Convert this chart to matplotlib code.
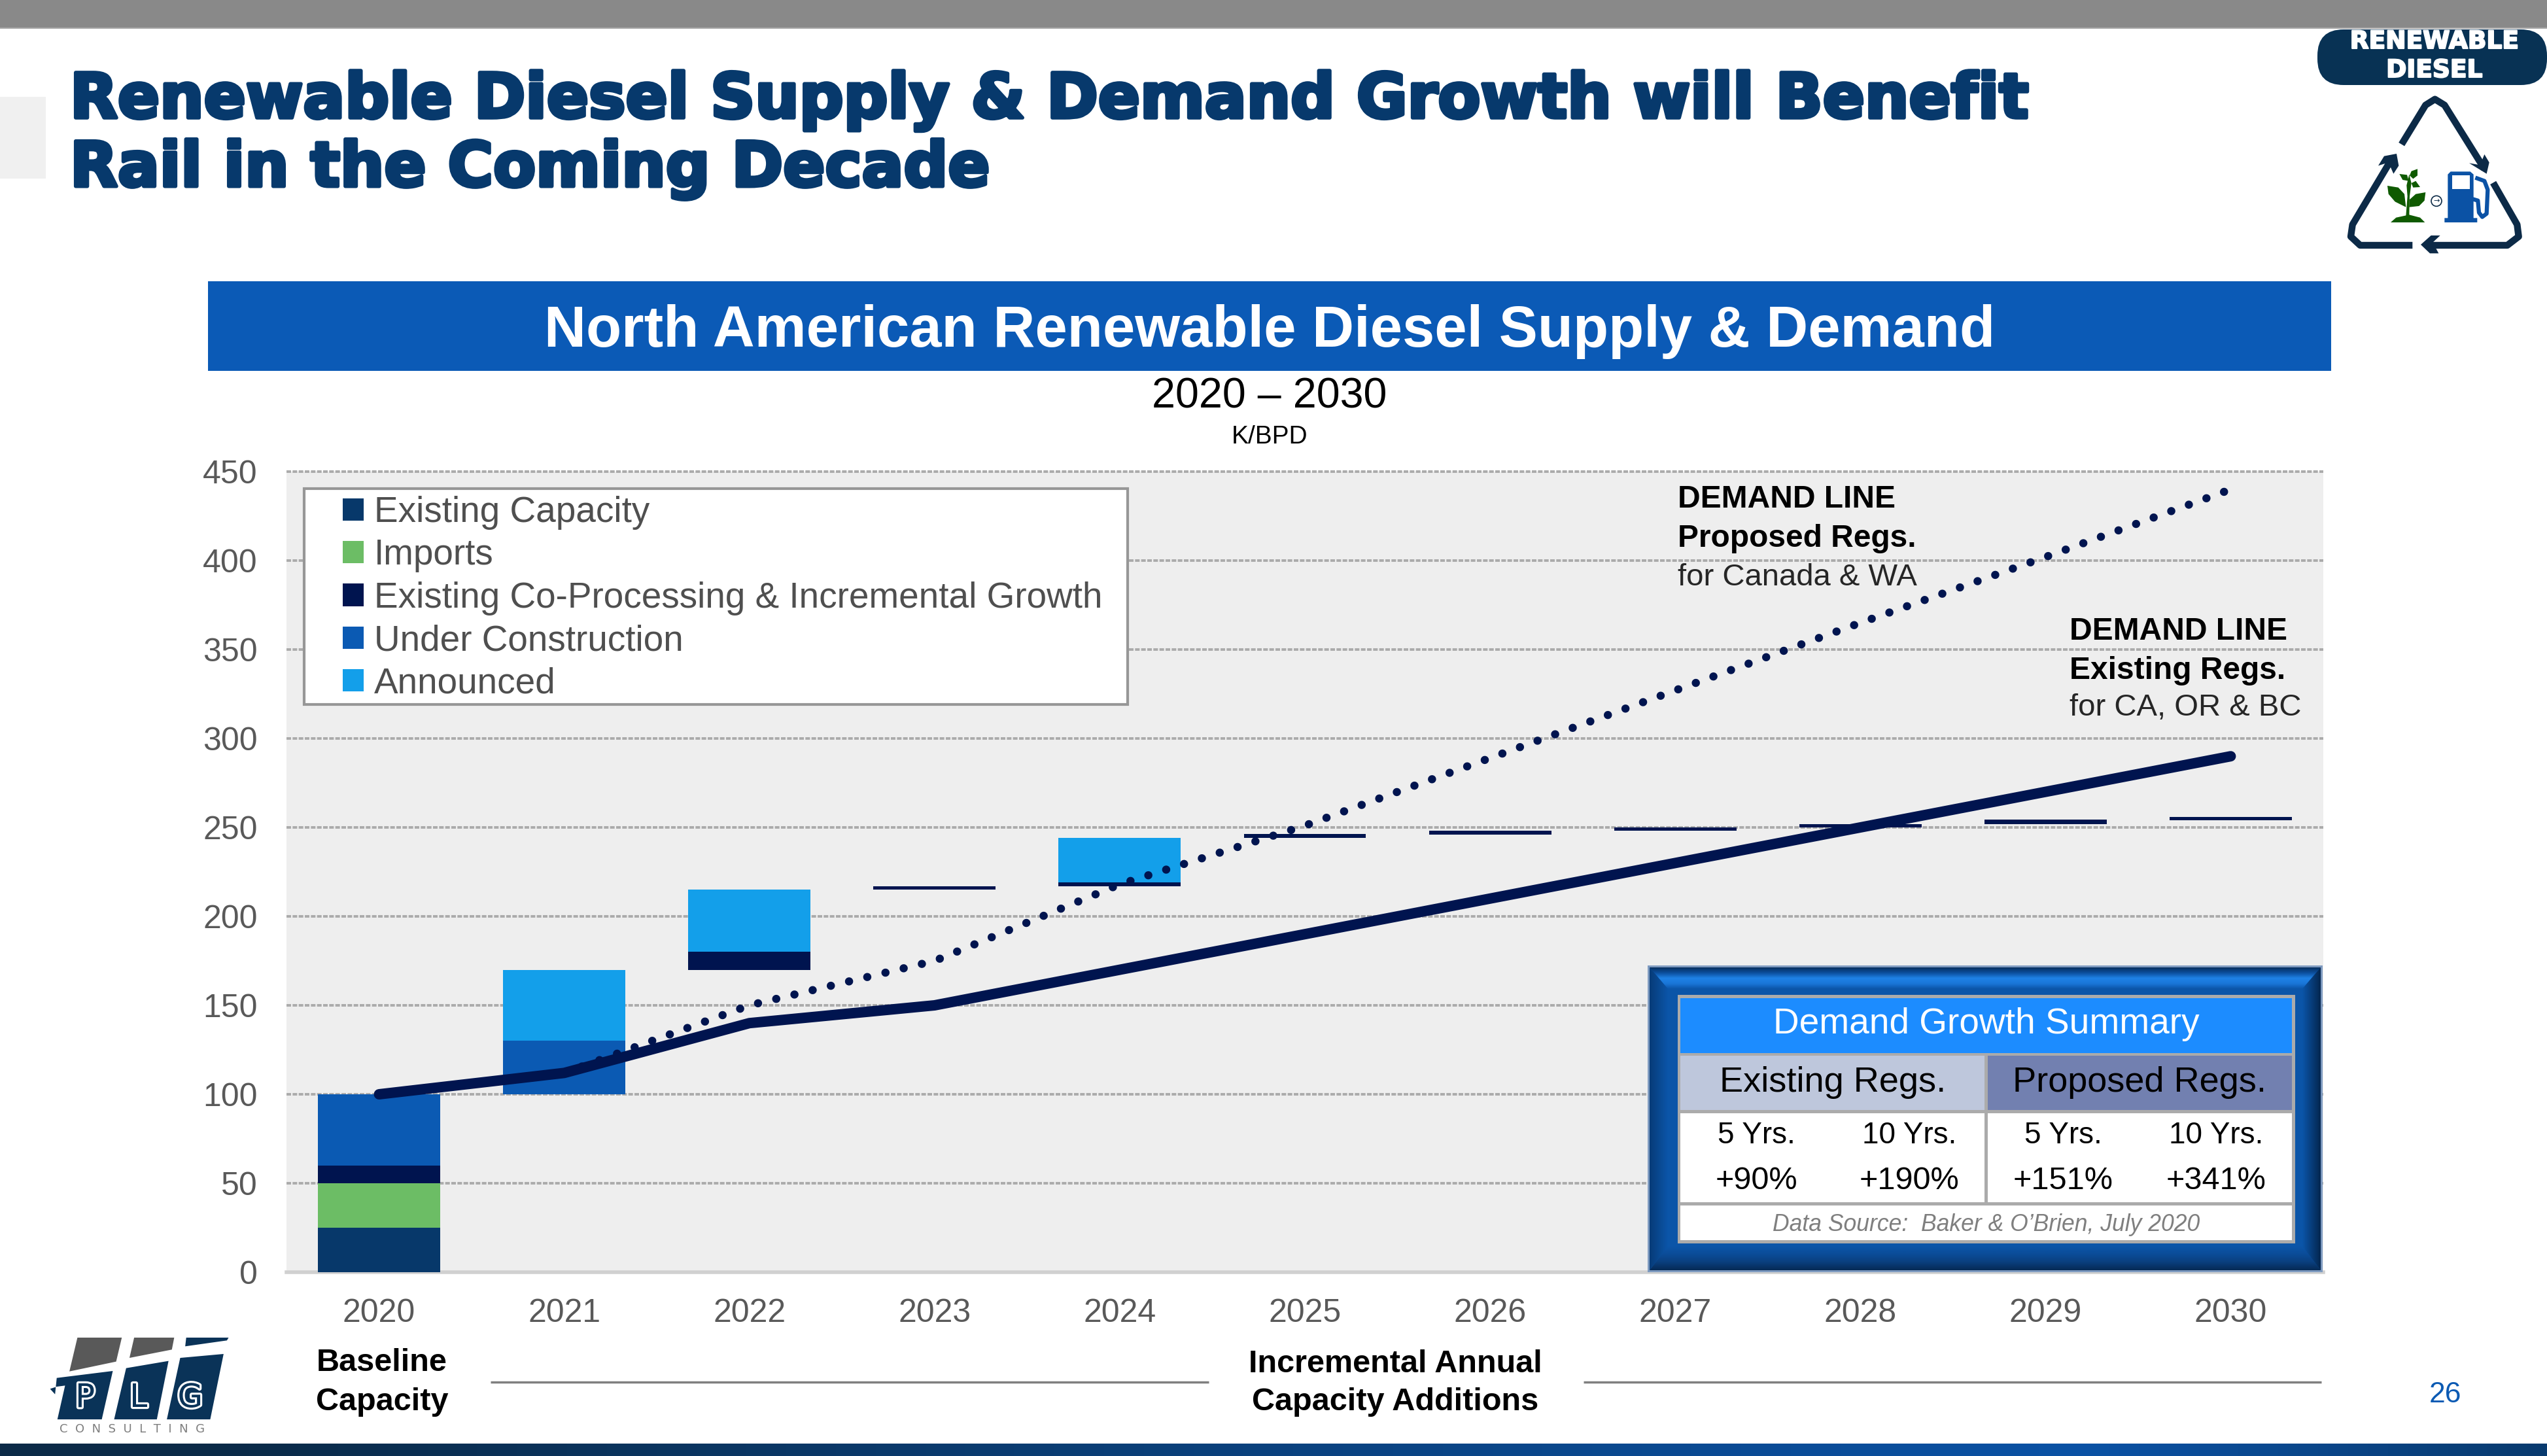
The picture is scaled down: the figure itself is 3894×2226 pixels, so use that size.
import numpy as np
import matplotlib
matplotlib.use("Agg")
import matplotlib.pyplot as plt
import matplotlib.patheffects as pe
from matplotlib.patches import Patch, Polygon, Rectangle, FancyBboxPatch, Circle
from matplotlib.colors import LinearSegmentedColormap

plt.rcParams['font.family'] = ['Liberation Sans', 'DejaVu Sans']

W, H = 3894, 2226

# ---------- data ----------
years = [2020, 2021, 2022, 2023, 2024, 2025, 2026, 2027, 2028, 2029, 2030]
base = [0, 100, 170, 215, 217, 244, 246, 248, 250, 252, 254]
existing = [25, 0, 0, 0, 0, 0, 0, 0, 0, 0, 0]
imports_ = [25, 0, 0, 0, 0, 0, 0, 0, 0, 0, 0]
coproc = [10, 0, 10, 2, 2, 2.5, 2, 2, 2, 2.3, 2]
under = [40, 30, 0, 0, 0, 0, 0, 0, 0, 0, 0]
announced = [0, 40, 35, 0, 25, 0, 0, 0, 0, 0, 0]
demand_existing = [100, 112, 140, 150, 170, 190, 210, 230, 250, 270, 290]
proposed_years = [2021, 2022, 2023, 2024, 2025, 2026, 2027, 2028, 2029, 2030]
demand_proposed = [112, 150, 175, 218, 251, 289, 327, 365, 402, 440]
series_names = ['Existing Capacity', 'Imports', 'Existing Co-Processing & Incremental Growth',
                'Under Construction', 'Announced']
series_colors = ['#07386A', '#6CBD65', '#00144F', '#0B5AB3', '#139FEA']
y_ticks = [0, 50, 100, 150, 200, 250, 300, 350, 400, 450]

NAVY = '#00144F'
fig = plt.figure(figsize=(W / 100, H / 100), dpi=100, facecolor='white')

# ---------- main chart ----------
L, R, T, B = 438, 3552, 721, 1945
ax = fig.add_axes([L / W, 1 - B / H, (R - L) / W, (B - T) / H], zorder=2)
ax.set_facecolor('#EEEEEE')
ax.set_xlim(2019.5, 2030.5)
ax.set_ylim(0, 450)
ax.set_axisbelow(True)
ax.grid(axis='y', color='#ABABAB', lw=2.8, ls=(0, (1.8, 0.6)), clip_on=False)
ax.grid(axis='x', visible=False)
for s in ['top', 'left', 'right']:
    ax.spines[s].set_visible(False)
ax.spines['bottom'].set_color('#D0D0D0')
ax.spines['bottom'].set_linewidth(4)
ax.tick_params(length=0, labelsize=36, labelcolor='#595959', pad=29)
ax.set_xticks(years)
ax.set_yticks(y_ticks)
ax.tick_params(axis='y', pad=32)

bottoms = np.array(base, dtype=float)
for vals, c in zip([existing, imports_, coproc, under, announced], series_colors):
    ax.bar(years, vals, width=0.66, bottom=bottoms, color=c, linewidth=0, zorder=3)
    bottoms = bottoms + np.array(vals, dtype=float)

ax.plot(proposed_years, demand_proposed, color=NAVY, lw=9, ls=(0, (0.01, 2.28)),
        dash_capstyle='round', zorder=4)
ax.plot(years, demand_existing, color=NAVY, lw=11.5, solid_capstyle='round',
        solid_joinstyle='round', zorder=5)

# legend frame, then legend without its own frame
ax.add_patch(Rectangle((465 / W, 1 - 1077 / H), (1724 - 465) / W, (1077 - 747) / H,
                       transform=fig.transFigure, facecolor='white', edgecolor='#979797',
                       lw=3, zorder=5.5))
handles = [Patch(facecolor=c, edgecolor='none', label=n) for c, n in zip(series_colors, series_names)]
leg = ax.legend(handles=handles, loc='upper left', bbox_to_anchor=(524 / W, 1 - 758 / H),
                bbox_transform=fig.transFigure, borderaxespad=0, borderpad=0, fontsize=39.5,
                frameon=False, handlelength=0.58, handleheight=0.58, handletextpad=0.3,
                labelspacing=0.245, labelcolor='#4F4F4F')
leg.set_zorder(6)

# ---------- overlay in pixel coordinates ----------
ov = fig.add_axes([0, 0, 1, 1], zorder=5)
ov.set_xlim(0, W)
ov.set_ylim(H, 0)
ov.axis('off')
ov.patch.set_alpha(0)


def rect(x0, y0, x1, y1, c, **k):
    ov.add_patch(Rectangle((x0, y0), x1 - x0, y1 - y0, facecolor=c, edgecolor='none', **k))


def txt(x, y, s, size, color='black', ha='center', va='center', **k):
    return ov.text(x, y, s, fontsize=size, color=color, ha=ha, va=va, **k)


def grad(x0, y0, x1, y1, colors, vertical=True, clip=None):
    n = 128
    a = np.linspace(0, 1, n)
    a = a[:, None] if vertical else a[None, :]
    cm = LinearSegmentedColormap.from_list('g', colors)
    im = ov.imshow(a, extent=(x0, x1, y1, y0), cmap=cm, aspect='auto', zorder=2,
                   interpolation='bilinear', vmin=0, vmax=1)
    if clip is not None:
        p = Polygon(clip, closed=True, transform=ov.transData, facecolor='none', edgecolor='none')
        ov.add_patch(p)
        im.set_clip_path(p)
    return im


# top & bottom bars, side tab
rect(0, 0, W, 42, '#898989')
rect(0, 42, W, 44, '#A8A8A8')
rect(0, 148, 70, 273, '#F0F0F0')
cm_stops = [(0, '#0C2A47'), (0.08, '#0B2A47'), (0.45, '#0A3F78'), (0.82, '#0B52A5'), (1, '#083A6E')]
cm_bar = LinearSegmentedColormap.from_list('bar', cm_stops)
ov.imshow(np.linspace(0, 1, 512)[None, :], extent=(0, W, H, 2207), cmap=cm_bar, aspect='auto',
          zorder=2, vmin=0, vmax=1)
ov.set_xlim(0, W)
ov.set_ylim(H, 0)

# title
TITLE = '#07396C'
title_fx = [pe.withStroke(linewidth=4, foreground=TITLE)]
for y, s in [(154, 'Renewable Diesel Supply & Demand Growth will Benefit'),
             (259, 'Rail in the Coming Decade')]:
    txt(107, y, s, 68.2, TITLE, ha='left', family='DejaVu Sans', weight='bold', path_effects=title_fx)

# chart header
rect(318, 430, 3564, 567, '#0B5AB6')
txt(1941, 507, 'North American Renewable Diesel Supply & Demand', 63.8, 'white', weight='bold')
txt(1941, 607, '2020 – 2030', 46.5)
txt(1941, 668, 'K/BPD', 28)

# demand annotations
for x, y0, lab in [(2565, 764, 'Proposed Regs.'), (3164, 966, 'Existing Regs.')]:
    txt(x, y0, 'DEMAND LINE', 34.5, ha='left', weight='bold')
    txt(x, y0 + 60, lab, 34.5, ha='left', weight='bold')
tail = [(2565, 883, 'for Canada & WA'), (3164, 1082, 'for CA, OR & BC')]
for x, y, s in tail:
    txt(x, y, s, 34, '#262626', ha='left')

# bottom labels
txt(584, 2084, 'Baseline', 35, weight='bold')
txt(584, 2144, 'Capacity', 35, weight='bold')
txt(2133, 2086, 'Incremental Annual', 35, weight='bold')
txt(2133, 2144, 'Capacity Additions', 35, weight='bold')
ov.plot([750, 1848], [2113, 2113], color='#7F7F7F', lw=2.5, solid_capstyle='butt')
ov.plot([2421, 3549], [2113, 2113], color='#7F7F7F', lw=2.5, solid_capstyle='butt')
txt(3738, 2132, '26', 32, '#0B5AB3')

# summary box
rect(2519, 1476, 3551, 1945, '#7F9BC0', zorder=1.5)
rect(2522, 1479, 3548, 1942, '#0B55A8', zorder=1.8)
grad(2522, 1479, 3548, 1512, ['#072F5E', '#0C4F9E', '#1F82E6', '#1A76D8', '#0B55A8'],
     clip=[(2522, 1479), (3548, 1479), (3520, 1512), (2550, 1512)])
grad(2522, 1905, 3548, 1942, ['#0B55A8', '#0B4C98', '#0A3F7E', '#062A55'],
     clip=[(2550, 1905), (3520, 1905), (3548, 1942), (2522, 1942)])
grad(2522, 1479, 2550, 1942, ['#073B78', '#0B55A8'], vertical=False,
     clip=[(2522, 1479), (2550, 1512), (2550, 1905), (2522, 1942)])
grad(3520, 1479, 3548, 1942, ['#0B55A8', '#04264F'], vertical=False,
     clip=[(3520, 1512), (3548, 1479), (3548, 1942), (3520, 1905)])
ov.set_xlim(0, W)
ov.set_ylim(H, 0)
GR = '#ABABAB'
rect(2565, 1521, 3509, 1901, GR, zorder=3)
rect(2569, 1526, 3504, 1610, '#1C8CFF', zorder=3.1)
rect(2569, 1614, 3034, 1697, '#BEC7DC', zorder=3.1)
rect(3039, 1614, 3504, 1697, '#7280B0', zorder=3.1)
rect(2569, 1702, 3034, 1838, 'white', zorder=3.1)
rect(3039, 1702, 3504, 1838, 'white', zorder=3.1)
rect(2569, 1843, 3504, 1896, 'white', zorder=3.1)
Z = {'zorder': 4}
txt(3037, 1566, 'Demand Growth Summary', 39.6, 'white', **Z)
txt(2802, 1655, 'Existing Regs.', 39, **Z)
txt(3271, 1655, 'Proposed Regs.', 39, **Z)
for x, a, b in [(2685, '5 Yrs.', '+90%'), (2919, '10 Yrs.', '+190%'),
                (3154, '5 Yrs.', '+151%'), (3388, '10 Yrs.', '+341%')]:
    txt(x, 1736, a, 33, **Z)
    txt(x, 1806, b, 35, **Z)
txt(3037, 1873, 'Data Source:  Baker & O’Brien, July 2020', 25.6, '#7F7F7F', style='italic', **Z)


# ---------- RD badge ----------
def zm3(pts):
    return [(3400 + x / 3, y / 3) for x, y in pts]


ov.add_patch(FancyBboxPatch((3543, 45), 351, 85, boxstyle='round,pad=0,rounding_size=40',
                            facecolor='#083254', edgecolor='none'))
fx = [pe.withStroke(linewidth=1.5, foreground='white')]
txt(3722, 64, 'RENEWABLE', 27, 'white', family='DejaVu Sans', weight='bold', path_effects=fx)
txt(3722, 108, 'DIESEL', 27, 'white', family='DejaVu Sans', weight='bold', path_effects=fx)

LOGO = '#0C2A47'
for pts in [[(815, 662), (925, 482), (968, 455), (1012, 482), (1195, 775)],
            [(1235, 838), (1345, 1030), (1352, 1085), (1300, 1125), (930, 1125)],
            [(865, 1125), (625, 1125), (582, 1085), (590, 1030), (775, 720)]]:
    p = zm3(pts)
    ov.plot(*zip(*p), color=LOGO, lw=7.5, solid_capstyle='butt', solid_joinstyle='round')
for poly in [[(1195, 708), (1217, 745), (1205, 797), (1125, 748), (1175, 757)],
             [(903, 1122), (950, 1080), (992, 1080), (958, 1112), (985, 1162), (945, 1162)],
             [(792, 705), (735, 716), (708, 760), (755, 745), (778, 797), (802, 760)]]:
    ov.add_patch(Polygon(zm3(poly), closed=True, facecolor=LOGO, edgecolor='none'))
# plant
G = '#0F5A00'
for poly in [[(765, 1020), (790, 998), (850, 985), (900, 998), (922, 1020)],
             [(835, 990), (842, 900), (838, 850), (850, 800), (860, 840), (852, 900), (850, 990)],
             [(750, 852), (800, 860), (828, 890), (835, 950), (785, 925), (755, 890)],
             [(925, 882), (880, 890), (852, 915), (850, 950), (895, 945), (920, 920)],
             [(805, 798), (840, 802), (848, 830), (820, 825)],
             [(888, 775), (888, 805), (868, 820), (852, 805), (860, 785)],
             [(860, 840), (880, 830), (900, 858), (868, 860)]]:
    ov.add_patch(Polygon(zm3(poly), closed=True, facecolor=G, edgecolor='none'))
# pump
P = '#0B52A5'
ov.add_patch(Polygon(zm3([(1027, 800), (1040, 787), (1130, 787), (1145, 800), (1145, 1000),
                          (1162, 1000), (1162, 1020), (1012, 1020), (1012, 1000), (1027, 1000)]),
                     closed=True, facecolor=P, edgecolor='none'))
rect(3400 + 1047 / 3, 805 / 3, 3400 + 1127 / 3, 867 / 3, 'white')
p = zm3([(1162, 818), (1195, 830), (1210, 870), (1205, 980), (1185, 995), (1170, 975), (1165, 920), (1148, 915)])
ov.plot(*zip(*p), color=P, lw=4.5, solid_joinstyle='round')
ov.add_patch(Circle(zm3([(975, 922)])[0], 8, facecolor='white', edgecolor=LOGO, lw=1.2))
txt(3400 + 975 / 3, 920 / 3, '→', 8, LOGO, family='DejaVu Sans')


# ---------- PLG logo ----------
def zm4(pts):
    return [(x * 800 / 1568, 1950 + y / 3) for x, y in pts]


BL = '#0A3358'
for c, poly in [('#595959', [(232, 285), (365, 285), (348, 395), (208, 440)]),
                ('#595959', [(402, 285), (522, 285), (515, 340), (388, 378)]),
                (BL, [(558, 285), (685, 285), (680, 298), (555, 325)]),
                (BL, [(172, 660), (195, 505), (170, 510), (150, 520), (165, 545), (170, 470), (338, 438), (305, 660)]),
                (BL, [(342, 660), (378, 425), (505, 392), (470, 660)]),
                (BL, [(500, 660), (540, 378), (670, 360), (630, 660)])]:
    ov.add_patch(Polygon(zm4(poly), closed=True, facecolor=c, edgecolor='none'))
lfx = [pe.withStroke(linewidth=4.5, foreground='white')]
for x, s in [(255, 'P'), (415, 'L'), (570, 'G')]:
    xy = zm4([(x, 562)])[0]
    txt(xy[0], xy[1], s, 36, BL, family='DejaVu Sans', path_effects=lfx)
txt(202, 2185, 'C  O  N  S  U  L  T  I  N  G', 13, '#7F7F7F', family='DejaVu Sans')

fig.savefig('out.png', dpi=100)
